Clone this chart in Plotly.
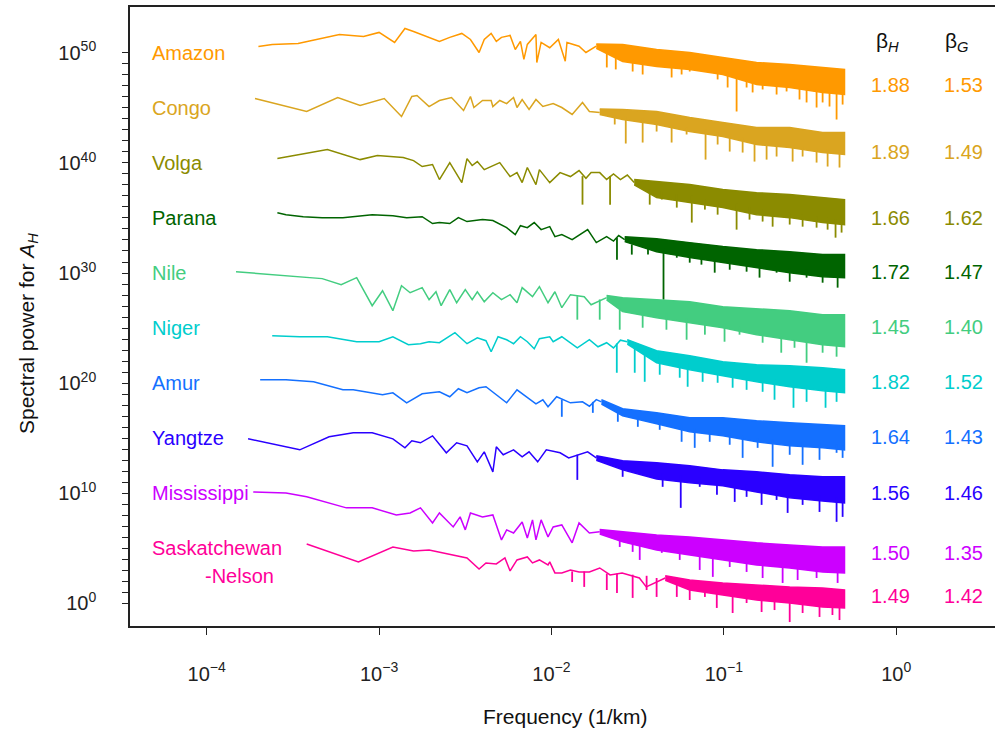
import plotly.graph_objects as go

# ---------------- data: log10 frequency (1/km) and log10 spectral power ----------------
RIVERS = ["Amazon", "Congo", "Volga", "Parana", "Nile", "Niger", "Amur", "Yangtze",
          "Mississippi", "Saskatchewan-Nelson"]
COLORS = ["#FF9900", "#DAA520", "#8B8B00", "#006400", "#43CD80", "#00CDCD", "#1470FF",
          "#2A00FF", "#CC00FF", "#FF0099"]
BETA_H = [1.88, 1.89, 1.66, 1.72, 1.45, 1.82, 1.64, 1.56, 1.50, 1.49]
BETA_G = [1.53, 1.49, 1.62, 1.47, 1.40, 1.52, 1.43, 1.46, 1.35, 1.42]

AMAZON_LINE_F = [-3.70, -3.62, -3.47, -3.36, -3.23, -3.09, -3.00, -2.91, -2.85, -2.80, -2.71, -2.65, -2.59, -2.52, -2.47, -2.42, -2.39, -2.35, -2.32, -2.29, -2.24, -2.21, -2.18, -2.16, -2.14, -2.09, -2.085, -2.06, -2.01, -1.96, -1.92, -1.91, -1.84, -1.80, -1.74]
AMAZON_LINE_P = [50.58, 50.76, 50.85, 51.21, 51.67, 51.49, 51.85, 50.94, 52.21, 51.94, 51.40, 51.03, 51.40, 51.76, 51.21, 50.03, 51.21, 51.76, 51.03, 51.40, 51.58, 50.30, 51.03, 49.40, 50.76, 51.67, 49.12, 50.94, 50.46, 51.21, 49.24, 50.94, 50.60, 50.03, 50.60]
AMAZON_BAND_F = [-1.74, -1.587, -1.39, -1.198, -1.006, -0.81, -0.618, -0.427, -0.30]
AMAZON_BAND_HI = [50.80, 50.76, 50.30, 50.03, 49.58, 49.12, 48.94, 48.67, 48.49]
AMAZON_BAND_LO = [50.40, 49.21, 48.76, 48.49, 48.03, 47.12, 46.85, 46.40, 46.21]
AMAZON_SPIKE_F = [-1.679, -1.627, -1.529, -1.471, -1.303, -1.245, -1.198, -1.036, -0.978, -0.926, -0.868, -0.833, -0.775, -0.694, -0.636, -0.561, -0.520, -0.462, -0.427, -0.387, -0.346, -0.311]
AMAZON_SPIKE_HI = [50.2, 49.8, 49.4, 49.2, 48.9, 48.8, 48.7, 48.4, 48.2, 48.0, 47.6, 47.5, 47.3, 47.2, 47.1, 46.9, 46.8, 46.7, 46.6, 46.5, 46.4, 46.4]
AMAZON_SPIKE_LO = [48.67, 48.49, 48.30, 48.03, 47.76, 48.03, 48.30, 47.58, 46.85, 44.67, 46.85, 46.40, 46.67, 46.21, 46.49, 45.76, 45.49, 45.03, 45.49, 45.12, 43.94, 45.30]

CONGO_LINE_F = [-3.72, -3.42, -3.24, -3.11, -2.97, -2.87, -2.81, -2.78, -2.71, -2.65, -2.58, -2.51, -2.47, -2.45, -2.40, -2.35, -2.34, -2.30, -2.26, -2.22, -2.20, -2.17, -2.13, -2.09, -2.05, -1.99, -1.94, -1.88, -1.82, -1.78, -1.72]
CONGO_LINE_P = [45.85, 44.67, 45.94, 45.21, 45.85, 44.21, 46.03, 46.12, 45.12, 45.67, 45.94, 44.76, 46.03, 45.03, 45.67, 45.67, 45.12, 45.67, 45.39, 45.94, 45.03, 45.76, 44.85, 45.76, 45.12, 45.39, 45.03, 44.40, 45.49, 44.67, 44.58]
CONGO_BAND_F = [-1.72, -1.587, -1.39, -1.198, -1.006, -0.81, -0.618, -0.427, -0.30]
CONGO_BAND_HI = [44.90, 44.85, 44.67, 44.12, 43.67, 43.21, 43.21, 42.76, 42.76]
CONGO_BAND_LO = [44.40, 43.94, 43.49, 42.85, 42.40, 41.67, 41.40, 40.94, 40.76]
CONGO_SPIKE_F = [-1.633, -1.569, -1.471, -1.39, -1.303, -1.216, -1.106, -1.036, -0.966, -0.891, -0.822, -0.752, -0.694, -0.601, -0.543, -0.462, -0.398, -0.329]
CONGO_SPIKE_HI = [44.3, 44.2, 44.0, 43.8, 43.4, 43.2, 43.0, 42.8, 42.5, 42.3, 42.0, 41.9, 41.8, 41.6, 41.5, 41.3, 41.2, 41.1]
CONGO_SPIKE_LO = [43.49, 41.76, 41.85, 42.85, 41.85, 42.58, 40.30, 41.67, 41.03, 40.94, 40.12, 40.30, 40.58, 40.12, 40.58, 40.03, 39.67, 39.58]

VOLGA_LINE_F = [-3.59, -3.30, -3.11, -3.01, -2.86, -2.80, -2.75, -2.69, -2.65, -2.59, -2.52, -2.49, -2.46, -2.43, -2.39, -2.35, -2.30, -2.24, -2.20, -2.17, -2.14, -2.09, -2.07, -2.01, -1.95, -1.89, -1.84, -1.80, -1.77, -1.72, -1.68, -1.64, -1.60, -1.56, -1.52]
VOLGA_LINE_P = [40.39, 41.21, 40.30, 40.67, 40.49, 40.21, 39.67, 39.85, 38.49, 40.03, 38.21, 40.39, 39.76, 40.12, 39.39, 39.67, 40.03, 38.76, 39.12, 38.21, 39.58, 38.03, 39.39, 38.21, 39.12, 38.76, 39.30, 38.60, 39.12, 39.12, 38.50, 39.00, 38.49, 38.90, 38.21]
VOLGA_BAND_F = [-1.52, -1.39, -1.198, -1.006, -0.81, -0.618, -0.427, -0.30]
VOLGA_BAND_HI = [38.50, 38.30, 38.03, 37.58, 37.30, 37.12, 36.85, 36.67]
VOLGA_BAND_LO = [38.00, 36.85, 36.40, 35.94, 35.30, 35.03, 34.58, 34.40]
VOLGA_SPIKE_F = [-1.82, -1.66, -1.43, -1.36, -1.273, -1.186, -1.11, -1.036, -0.926, -0.851, -0.775, -0.717, -0.618, -0.543, -0.462, -0.398, -0.352, -0.317]
VOLGA_SPIKE_HI = [38.8, 38.8, 37.6, 37.4, 37.2, 37.0, 36.8, 36.6, 36.3, 36.0, 35.8, 35.6, 35.5, 35.3, 35.1, 35.0, 34.9, 34.8]
VOLGA_SPIKE_LO = [36.21, 36.21, 36.21, 36.67, 35.94, 34.58, 35.76, 35.30, 33.94, 34.85, 34.67, 34.21, 34.40, 34.21, 34.12, 33.94, 33.21, 33.67]

PARANA_LINE_F = [-3.59, -3.54, -3.44, -3.33, -3.21, -3.04, -2.92, -2.84, -2.75, -2.69, -2.65, -2.59, -2.54, -2.49, -2.40, -2.34, -2.26, -2.21, -2.18, -2.14, -2.10, -2.06, -2.01, -1.98, -1.94, -1.88, -1.79, -1.74, -1.68, -1.64, -1.61, -1.575]
PARANA_LINE_P = [35.48, 35.30, 35.12, 35.03, 35.03, 35.30, 35.21, 35.03, 35.12, 34.49, 34.58, 34.49, 35.03, 34.67, 34.85, 34.76, 34.12, 33.49, 34.30, 34.12, 34.58, 33.94, 34.21, 33.30, 33.49, 33.03, 33.94, 32.76, 33.30, 32.90, 33.40, 33.03]
PARANA_BAND_F = [-1.575, -1.39, -1.198, -1.006, -0.81, -0.618, -0.427, -0.30]
PARANA_BAND_HI = [33.30, 33.12, 32.76, 32.40, 32.12, 31.94, 31.67, 31.67]
PARANA_BAND_LO = [32.85, 31.94, 31.40, 30.94, 30.49, 30.03, 29.67, 29.58]
PARANA_SPIKE_F = [-1.62, -1.534, -1.44, -1.35, -1.273, -1.198, -1.13, -1.053, -0.966, -0.868, -0.793, -0.694, -0.618, -0.52, -0.427, -0.34]
PARANA_SPIKE_HI = [33.2, 32.6, 32.4, 32.2, 31.9, 31.7, 31.5, 31.3, 31.1, 30.9, 30.8, 30.6, 30.4, 30.3, 30.1, 30.0]
PARANA_SPIKE_LO = [31.21, 31.67, 31.67, 27.58, 31.39, 30.94, 30.76, 30.03, 30.30, 30.12, 29.58, 30.03, 29.21, 29.58, 29.12, 28.67]

NILE_LINE_F = [-3.83, -3.60, -3.40, -3.33, -3.22, -3.13, -3.04, -2.98, -2.92, -2.87, -2.82, -2.75, -2.71, -2.67, -2.64, -2.59, -2.55, -2.50, -2.46, -2.43, -2.39, -2.34, -2.29, -2.24, -2.20, -2.17, -2.11, -2.07, -2.02, -1.98, -1.94, -1.89, -1.81, -1.77, -1.68]
NILE_LINE_P = [30.12, 29.85, 29.58, 29.49, 28.94, 29.58, 27.03, 28.39, 26.58, 28.85, 28.21, 28.67, 27.58, 28.30, 27.03, 28.49, 27.30, 28.49, 27.58, 28.30, 27.39, 28.21, 27.58, 28.03, 27.30, 28.67, 27.85, 28.76, 27.30, 28.30, 26.85, 28.03, 27.85, 27.12, 27.76]
NILE_BAND_F = [-1.68, -1.587, -1.39, -1.198, -1.006, -0.81, -0.618, -0.427, -0.30]
NILE_BAND_HI = [27.95, 27.76, 27.58, 27.40, 26.94, 26.76, 26.58, 26.21, 26.21]
NILE_BAND_LO = [27.55, 26.49, 25.94, 25.49, 25.03, 24.40, 23.94, 23.49, 23.30]
NILE_SPIKE_F = [-1.85, -1.72, -1.604, -1.471, -1.333, -1.216, -1.11, -0.996, -0.909, -0.775, -0.667, -0.59, -0.52, -0.427, -0.346]
NILE_SPIKE_HI = [27.9, 27.6, 26.8, 26.6, 26.3, 25.9, 25.6, 25.4, 25.1, 24.6, 24.2, 24.0, 23.8, 23.7, 23.5]
NILE_SPIKE_LO = [25.76, 25.76, 24.85, 25.03, 24.85, 23.94, 24.40, 23.76, 24.40, 23.67, 22.76, 23.21, 21.85, 22.76, 22.40]

NIGER_LINE_F = [-3.62, -3.46, -3.30, -3.21, -3.13, -3.00, -2.92, -2.83, -2.76, -2.71, -2.65, -2.56, -2.49, -2.43, -2.38, -2.35, -2.31, -2.26, -2.22, -2.18, -2.14, -2.10, -2.07, -2.01, -1.99, -1.94, -1.85, -1.78, -1.73, -1.68, -1.64, -1.60, -1.56]
NIGER_LINE_P = [24.30, 24.21, 24.21, 23.94, 23.76, 23.76, 24.21, 23.49, 23.58, 23.76, 23.67, 24.58, 23.58, 24.12, 23.85, 22.85, 24.21, 23.94, 23.58, 24.21, 23.76, 23.12, 24.03, 24.21, 23.76, 24.21, 23.21, 23.94, 23.30, 23.67, 23.20, 23.90, 23.76]
NIGER_BAND_F = [-1.56, -1.39, -1.198, -1.006, -0.81, -0.618, -0.427, -0.30]
NIGER_BAND_HI = [23.95, 22.94, 22.49, 21.94, 21.67, 21.58, 21.39, 21.21]
NIGER_BAND_LO = [23.55, 21.85, 21.21, 20.67, 20.12, 19.67, 19.30, 19.12]
NIGER_SPIKE_F = [-1.621, -1.517, -1.459, -1.372, -1.256, -1.21, -1.123, -1.036, -0.949, -0.868, -0.775, -0.706, -0.596, -0.52, -0.41, -0.346]
NIGER_SPIKE_HI = [23.6, 23.2, 22.8, 22.6, 22.2, 21.9, 21.6, 21.3, 21.0, 20.8, 20.5, 20.3, 20.0, 19.8, 19.6, 19.5]
NIGER_SPIKE_LO = [20.94, 20.94, 20.12, 20.76, 20.49, 19.67, 20.12, 20.03, 19.58, 19.39, 19.21, 18.49, 17.76, 18.30, 17.76, 18.30]

AMUR_LINE_F = [-3.69, -3.54, -3.38, -3.21, -3.15, -3.07, -2.98, -2.92, -2.84, -2.75, -2.65, -2.59, -2.54, -2.49, -2.42, -2.38, -2.32, -2.26, -2.20, -2.14, -2.09, -2.05, -2.02, -1.97, -1.89, -1.82, -1.78, -1.74, -1.71]
AMUR_LINE_P = [20.30, 20.30, 20.12, 19.39, 19.39, 19.21, 18.94, 19.12, 18.21, 19.03, 19.21, 18.76, 19.49, 19.12, 19.58, 19.67, 18.94, 18.21, 19.39, 18.67, 18.12, 18.49, 17.85, 18.76, 18.21, 18.30, 17.90, 18.50, 18.30]
AMUR_BAND_F = [-1.71, -1.587, -1.39, -1.198, -1.006, -0.81, -0.618, -0.427, -0.30]
AMUR_BAND_HI = [18.50, 17.67, 17.30, 16.85, 16.85, 16.58, 16.40, 16.21, 16.12]
AMUR_BAND_LO = [18.10, 17.03, 16.30, 15.58, 15.21, 14.67, 14.30, 14.12, 13.94]
AMUR_SPIKE_F = [-1.94, -1.76, -1.615, -1.499, -1.372, -1.245, -1.169, -1.082, -0.966, -0.891, -0.804, -0.717, -0.618, -0.543, -0.445, -0.346, -0.311]
AMUR_SPIKE_HI = [18.5, 18.3, 17.4, 17.0, 16.6, 16.2, 15.9, 15.7, 15.4, 15.2, 15.0, 14.9, 14.7, 14.6, 14.5, 14.4, 14.3]
AMUR_SPIKE_LO = [16.94, 17.30, 16.49, 16.03, 15.76, 14.67, 14.12, 14.67, 14.40, 13.21, 14.12, 12.40, 13.49, 12.58, 13.03, 13.67, 13.21]

YANGTZE_LINE_F = [-3.76, -3.46, -3.29, -3.15, -3.04, -2.92, -2.85, -2.81, -2.76, -2.69, -2.61, -2.55, -2.49, -2.43, -2.39, -2.34, -2.32, -2.28, -2.22, -2.17, -2.13, -2.08, -2.03, -1.95, -1.90, -1.79, -1.74]
YANGTZE_LINE_P = [14.94, 13.94, 15.12, 15.49, 15.49, 14.94, 14.12, 14.76, 14.58, 15.21, 13.67, 14.58, 14.30, 12.85, 13.76, 11.94, 14.21, 13.49, 13.94, 13.30, 13.76, 12.85, 13.94, 13.67, 13.20, 13.76, 13.21]
YANGTZE_BAND_F = [-1.74, -1.587, -1.39, -1.198, -1.006, -0.81, -0.618, -0.427, -0.30]
YANGTZE_BAND_HI = [13.40, 12.94, 12.76, 12.49, 12.12, 11.94, 11.67, 11.49, 11.49]
YANGTZE_BAND_LO = [13.00, 12.12, 11.30, 10.94, 10.67, 10.12, 9.58, 9.30, 9.12]
YANGTZE_SPIKE_F = [-1.85, -1.587, -1.488, -1.355, -1.25, -1.14, -1.04, -0.937, -0.868, -0.781, -0.694, -0.63, -0.543, -0.445, -0.346, -0.311]
YANGTZE_SPIKE_HI = [13.5, 12.4, 12.2, 11.8, 11.6, 11.4, 11.2, 11.0, 10.8, 10.5, 10.3, 10.2, 10.0, 9.8, 9.6, 9.6]
YANGTZE_SPIKE_LO = [11.21, 11.49, 11.85, 10.58, 8.67, 10.58, 9.85, 9.21, 9.67, 8.94, 9.39, 8.21, 8.94, 8.30, 7.40, 7.85]

MISSISSIPPI_LINE_F = [-3.73, -3.54, -3.42, -3.30, -3.19, -3.04, -2.90, -2.82, -2.76, -2.69, -2.65, -2.57, -2.53, -2.50, -2.47, -2.40, -2.34, -2.29, -2.26, -2.22, -2.17, -2.14, -2.11, -2.09, -2.06, -2.02, -1.99, -1.94, -1.88, -1.84, -1.78, -1.72]
MISSISSIPPI_LINE_P = [10.12, 10.03, 9.67, 9.12, 8.67, 8.67, 8.03, 8.21, 8.67, 7.30, 8.21, 6.94, 7.85, 6.67, 8.21, 7.85, 8.03, 5.76, 6.67, 6.39, 7.39, 5.94, 7.58, 5.76, 7.58, 6.03, 6.94, 7.12, 5.49, 7.30, 6.39, 6.49]
MISSISSIPPI_BAND_F = [-1.72, -1.587, -1.39, -1.198, -1.006, -0.81, -0.618, -0.427, -0.30]
MISSISSIPPI_BAND_HI = [6.70, 6.49, 6.21, 6.03, 5.76, 5.49, 5.30, 5.12, 5.12]
MISSISSIPPI_BAND_LO = [6.30, 5.58, 4.85, 4.40, 3.94, 3.49, 3.21, 2.85, 2.76]
MISSISSIPPI_SPIKE_F = [-1.604, -1.529, -1.488, -1.36, -1.256, -1.14, -1.064, -0.966, -0.868, -0.775, -0.659, -0.572, -0.462, -0.34]
MISSISSIPPI_SPIKE_HI = [6.0, 5.8, 5.6, 5.3, 5.0, 4.7, 4.5, 4.3, 4.1, 3.9, 3.7, 3.6, 3.4, 3.3]
MISSISSIPPI_SPIKE_LO = [5.12, 4.67, 3.94, 4.58, 3.94, 3.03, 2.40, 3.30, 2.85, 2.30, 1.85, 2.12, 2.30, 1.85]

SASK_LINE_F = [-3.42, -3.12, -2.92, -2.80, -2.71, -2.61, -2.49, -2.42, -2.38, -2.32, -2.27, -2.24, -2.20, -2.14, -2.11, -2.07, -2.02, -2.01, -1.98, -1.94, -1.89, -1.84, -1.78, -1.72, -1.66, -1.59, -1.49, -1.45, -1.34]
SASK_LINE_P = [5.39, 3.76, 5.12, 4.76, 4.85, 4.49, 4.12, 3.12, 3.67, 3.58, 4.12, 2.94, 3.94, 4.21, 3.67, 3.94, 3.49, 3.76, 2.76, 2.76, 3.03, 2.85, 2.85, 3.21, 2.58, 2.76, 2.30, 1.49, 2.30]
SASK_BAND_F = [-1.34, -1.198, -1.006, -0.81, -0.618, -0.427, -0.30]
SASK_BAND_HI = [2.50, 2.12, 1.85, 1.67, 1.49, 1.39, 1.21]
SASK_BAND_LO = [2.10, 1.21, 0.76, 0.30, 0.03, -0.33, -0.42]
SASK_SPIKE_F = [-1.88, -1.81, -1.679, -1.62, -1.529, -1.448, -1.39, -1.273, -1.198, -1.11, -1.041, -0.949, -0.868, -0.781, -0.706, -0.618, -0.543, -0.445, -0.37, -0.329]
SASK_SPIKE_HI = [2.9, 2.9, 2.7, 2.7, 2.6, 2.5, 2.3, 1.9, 1.7, 1.5, 1.4, 1.2, 1.0, 0.8, 0.7, 0.5, 0.4, 0.2, 0.0, -0.1]
SASK_SPIKE_LO = [1.94, 1.49, 1.21, 0.94, 0.49, 1.21, 0.58, 0.58, 0.30, 0.58, -0.42, -0.88, 0.03, -0.79, -0.61, -1.70, -0.88, -1.24, -1.06, -1.52]

SERIES = [
    (AMAZON_LINE_F, AMAZON_LINE_P, AMAZON_BAND_F, AMAZON_BAND_HI, AMAZON_BAND_LO, AMAZON_SPIKE_F, AMAZON_SPIKE_HI, AMAZON_SPIKE_LO),
    (CONGO_LINE_F, CONGO_LINE_P, CONGO_BAND_F, CONGO_BAND_HI, CONGO_BAND_LO, CONGO_SPIKE_F, CONGO_SPIKE_HI, CONGO_SPIKE_LO),
    (VOLGA_LINE_F, VOLGA_LINE_P, VOLGA_BAND_F, VOLGA_BAND_HI, VOLGA_BAND_LO, VOLGA_SPIKE_F, VOLGA_SPIKE_HI, VOLGA_SPIKE_LO),
    (PARANA_LINE_F, PARANA_LINE_P, PARANA_BAND_F, PARANA_BAND_HI, PARANA_BAND_LO, PARANA_SPIKE_F, PARANA_SPIKE_HI, PARANA_SPIKE_LO),
    (NILE_LINE_F, NILE_LINE_P, NILE_BAND_F, NILE_BAND_HI, NILE_BAND_LO, NILE_SPIKE_F, NILE_SPIKE_HI, NILE_SPIKE_LO),
    (NIGER_LINE_F, NIGER_LINE_P, NIGER_BAND_F, NIGER_BAND_HI, NIGER_BAND_LO, NIGER_SPIKE_F, NIGER_SPIKE_HI, NIGER_SPIKE_LO),
    (AMUR_LINE_F, AMUR_LINE_P, AMUR_BAND_F, AMUR_BAND_HI, AMUR_BAND_LO, AMUR_SPIKE_F, AMUR_SPIKE_HI, AMUR_SPIKE_LO),
    (YANGTZE_LINE_F, YANGTZE_LINE_P, YANGTZE_BAND_F, YANGTZE_BAND_HI, YANGTZE_BAND_LO, YANGTZE_SPIKE_F, YANGTZE_SPIKE_HI, YANGTZE_SPIKE_LO),
    (MISSISSIPPI_LINE_F, MISSISSIPPI_LINE_P, MISSISSIPPI_BAND_F, MISSISSIPPI_BAND_HI, MISSISSIPPI_BAND_LO, MISSISSIPPI_SPIKE_F, MISSISSIPPI_SPIKE_HI, MISSISSIPPI_SPIKE_LO),
    (SASK_LINE_F, SASK_LINE_P, SASK_BAND_F, SASK_BAND_HI, SASK_BAND_LO, SASK_SPIKE_F, SASK_SPIKE_HI, SASK_SPIKE_LO),
]

X_TICK_EXP = [-4, -3, -2, -1, 0]
Y_TICK_EXP = list(range(0, 51))

# ---------------- layout constants (pixels) ----------------
W, H = 995, 733
L, R, T, B = 130, 0, 7, 107
PW, PH = W - L - R, H - T - B


def px(x):
    return (x - L) / PW


def py(y):
    return (H - B - y) / PH


def pw(v):
    return 10.0 ** v


FONT = "Liberation Sans, Arial, sans-serif"

fig = go.Figure()
for color, (lf, lp, bf, bhi, blo, sf, shi, slo) in zip(COLORS, SERIES):
    bx = [pw(v) for v in bf] + [pw(v) for v in bf[::-1]]
    by = [pw(v) for v in bhi] + [pw(v) for v in blo[::-1]]
    fig.add_trace(go.Scatter(x=bx, y=by, mode="lines", fill="toself", fillcolor=color,
                             line=dict(color=color, width=1.5), hoverinfo="skip"))
    sx, sy = [], []
    for f, a, b in zip(sf, shi, slo):
        sx += [pw(f), pw(f), None]
        sy += [pw(a), pw(b), None]
    fig.add_trace(go.Scatter(x=sx, y=sy, mode="lines", line=dict(color=color, width=1.8),
                             hoverinfo="skip"))
    fig.add_trace(go.Scatter(x=[pw(v) for v in lf], y=[pw(v) for v in lp], mode="lines",
                             line=dict(color=color, width=1.5), hoverinfo="skip"))


def note(x, y, text, color, size=20, xanchor="center", angle=0):
    return dict(x=px(x), y=py(y), xref="paper", yref="paper", text=text,
                showarrow=False, xanchor=xanchor, yanchor="middle", textangle=angle,
                font=dict(family=FONT, size=size, color=color))


annotations = []
# river labels
LABEL_Y = [53, 108, 163, 218, 273, 328, 383, 438, 493, 548]
for name, color, ly in zip(RIVERS, COLORS, LABEL_Y):
    txt = "Saskatchewan" if name == "Saskatchewan-Nelson" else name
    annotations.append(note(150, ly, txt, color, xanchor="left"))
annotations.append(note(203, 576, "-Nelson", COLORS[-1], xanchor="left"))
# beta table
annotations.append(note(887, 42, "β<sub><i>H</i></sub>", "#111", size=21))
annotations.append(note(957, 42, "β<sub><i>G</i></sub>", "#111", size=21))
ROW_Y = [85, 152, 218, 272, 327, 382, 437, 493, 553, 596]
for color, bh, bg, ry in zip(COLORS, BETA_H, BETA_G, ROW_Y):
    annotations.append(note(890, ry, f"{bh:.2f}", color))
    annotations.append(note(963, ry, f"{bg:.2f}", color))
# axis titles
annotations.append(note(565, 716, "Frequency (1/km)", "#111", size=21))
annotations.append(note(28, 334, "Spectral power for <i>A</i><sub><i>H</i></sub>", "#111",
                        size=21, angle=-90))

fig.update_layout(
    width=W, height=H, margin=dict(l=L, r=R, t=T, b=B, pad=0),
    paper_bgcolor="white", plot_bgcolor="white", showlegend=False, hovermode=False,
    font=dict(family=FONT, size=20, color="#222"),
    annotations=annotations,
)
fig.update_xaxes(
    type="log", range=[-4.445, 0.573], showgrid=False, zeroline=False,
    showline=True, linecolor="#222", linewidth=1.6, mirror=True,
    ticks="outside", ticklen=7, tickwidth=1.4, tickcolor="#222",
    tickvals=[pw(e) for e in X_TICK_EXP],
    ticktext=[f"10<sup>{'−' + str(-e) if e < 0 else e}</sup>" for e in X_TICK_EXP],
    ticklabelstandoff=22, tickfont=dict(family=FONT, size=20, color="#222"),
)
fig.update_yaxes(
    type="log", range=[-2.06, 54.16], showgrid=False, zeroline=False,
    showline=True, linecolor="#222", linewidth=1.6, mirror=False,
    ticks="outside", ticklen=6, tickwidth=1.4, tickcolor="#222",
    tickvals=[pw(e) for e in Y_TICK_EXP],
    ticktext=[f"10<sup>{e}</sup>" if e % 10 == 0 else "" for e in Y_TICK_EXP],
    ticklabelstandoff=22, tickfont=dict(family=FONT, size=20, color="#222"),
)

fig.write_html("out.html")
